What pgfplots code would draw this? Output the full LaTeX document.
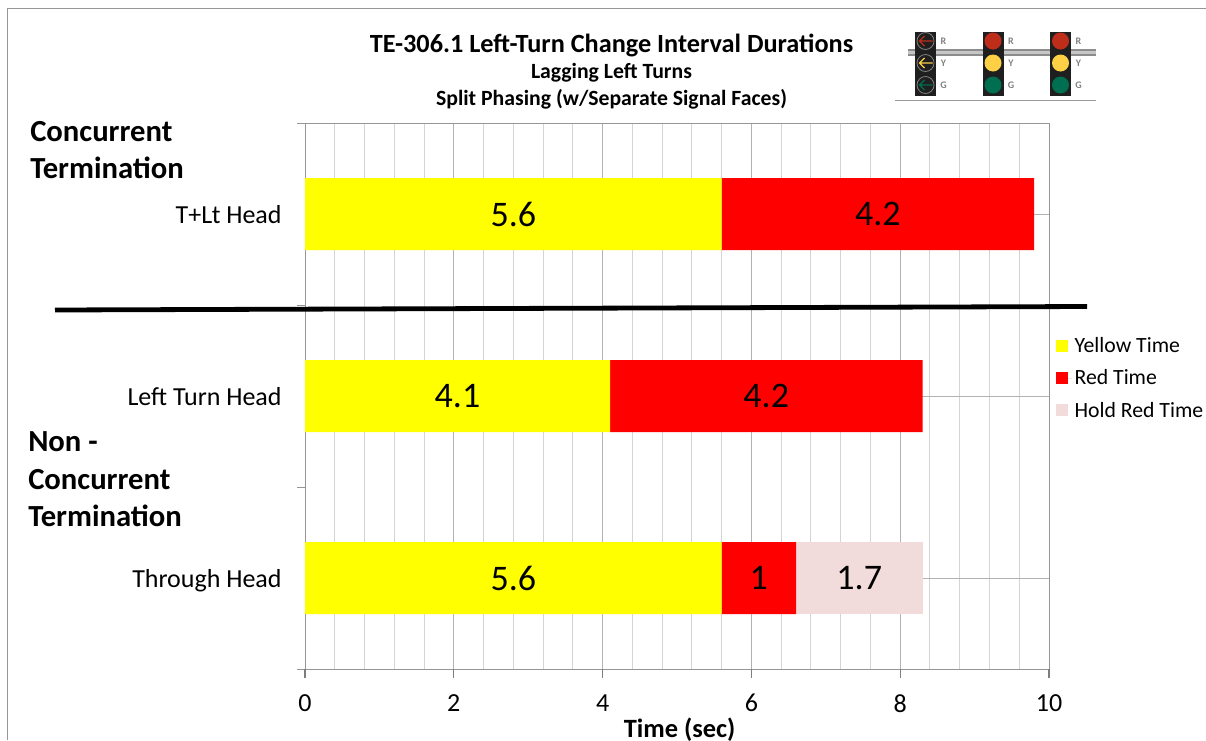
\documentclass[border=0pt]{standalone}
\usepackage{pgfplots}
\pgfplotsset{compat=1.18}
\usepackage{fontspec}
\setmainfont{Carlito}
\definecolor{pureyellow}{RGB}{255,255,0}
\definecolor{purered}{RGB}{255,0,0}
\definecolor{gridmaj}{RGB}{178,178,178}
\definecolor{gridmin}{RGB}{212,212,212}
\definecolor{axgray}{RGB}{150,150,150}
\definecolor{tickgray}{RGB}{125,125,125}
\definecolor{holdred}{RGB}{242,220,219}
\definecolor{sigred}{RGB}{190,45,25}
\definecolor{sigyel}{RGB}{253,208,70}
\definecolor{siggrn}{RGB}{0,110,80}
\begin{document}
\begin{tikzpicture}
\path[use as bounding box] (0,0) rectangle (904.5pt,-555pt);
\begin{axis}[
  at={(228.75pt,-501.75pt)}, anchor=south west,
  scale only axis, width=558pt, height=409.5pt,
  xbar stacked, bar width=54pt, bar shift=0pt,
  xmin=0, xmax=10, ymin=-0.5, ymax=2.5,
  xtick={0,2,4,6,8,10},
  minor x tick num=4,
  ytick={-0.5,0.5,1.5,2.5},
  yticklabels={},
  extra y ticks={0,1,2},
  extra y tick labels={Through Head,Left Turn Head,T+Lt Head},
  extra y tick style={grid=major, major tick length=0pt},
  xmajorgrids, xminorgrids,
  major grid style={gridmaj,line width=0.75pt},
  minor grid style={gridmin,line width=0.75pt},
  minor tick length=0pt,
  axis line style={axgray,line width=0.75pt},
  tick pos=left,
  tick align=outside,
  tick style={axgray,line width=0.75pt},
  major tick length=6pt,
  ticklabel style={font=\fontsize{19.5}{21}\selectfont},
  tick label style={text=black},
  /pgf/number format/assume math mode=true,
  yticklabel style={xshift=-14pt, yshift=-2.25pt, text height=13pt, text depth=4pt},
  xticklabel style={yshift=-9.5pt},
  xlabel={\textbf{Time (sec)}},
  xlabel style={font=\fontsize{19.8}{22}\selectfont,yshift=3pt,xshift=2pt},
  legend cell align=left,
  legend style={at={(1.0,0.617)},anchor=north west,draw=none,fill=none,font=\fontsize{16.3}{18}\selectfont,
    row sep=7.3pt,xshift=2pt},
  legend image code/.code={\fill[#1] (0pt,-4pt) rectangle (9pt,5pt); \path (0pt,0pt) -- (12pt,0pt);},
  nodes near coords,
  nodes near coords style={font=\fontsize{27}{29}\selectfont,text=black,anchor=center,
    /pgf/number format/assume math mode=true},
]
\addplot[fill=pureyellow,draw=none] coordinates {(5.6,0) (4.1,1) (5.6,2)};
\addplot[fill=purered,draw=none] coordinates {(1,0) (4.2,1) (4.2,2)};
\addplot[fill=holdred,draw=none] coordinates {(1.7,0)};
\legend{Yellow Time,Red Time,Hold Red Time}
\end{axis}
\begin{scope}[x=0.75pt,y=-0.75pt]
\foreach \tx in {305,453.8,602.6,751.4,900.2,1049}{
  \draw[tickgray,line width=1pt] (\tx,669) -- (\tx,678);
}
\draw[axgray,line width=0.75pt] (7.5,740) -- (7.5,8) -- (1206,8);
\draw[black,line width=3.6pt] (55,310) -- (1087,306.5);
\node[font=\bfseries\fontsize{19.7}{22}\selectfont] at (611.5,45) {TE-306.1 Left-Turn Change Interval Durations};
\node[font=\bfseries\fontsize{16.3}{18}\selectfont] at (611.5,73) {Lagging Left Turns};
\node[font=\bfseries\fontsize{16.3}{18}\selectfont] at (611.5,99) {Split Phasing (w/Separate Signal Faces)};
\node[font=\bfseries\fontsize{23}{25}\selectfont,anchor=west,inner sep=0pt] at (30,132) {Concurrent};
\node[font=\bfseries\fontsize{23}{25}\selectfont,anchor=west,inner sep=0pt] at (30,168) {Termination};
\node[font=\bfseries\fontsize{23}{25}\selectfont,anchor=west,inner sep=0pt] at (28,442) {Non -};
\node[font=\bfseries\fontsize{23}{25}\selectfont,anchor=west,inner sep=0pt] at (28,480) {Concurrent};
\node[font=\bfseries\fontsize{23}{25}\selectfont,anchor=west,inner sep=0pt] at (28,516) {Termination};
% signal icon
\draw[gray!80,line width=0.75pt] (895,100) -- (1096,100);
\fill[gray!90] (908,49) rectangle (1096,56);
\fill[gray!45] (908,51) rectangle (1096,54);
\foreach \x/\k in {925.5/0,993/1,1060.5/2}{
  \fill[black!88] (\x-10.5,32) rectangle (\x+10.5,96);
  \foreach \c/\y/\l in {sigred/41/R,sigyel/63/Y,siggrn/85/G}{
    \node[font=\bfseries\fontsize{7.5}{8}\selectfont,text=gray] at (\x+18,\y) {\l};
    \ifnum\k=0
      \draw[gray,line width=0.6pt] (\x,\y) circle (8.5);
      \draw[\c,line width=1pt] (\x+7,\y) -- (\x-6,\y) (\x-1,\y-5) -- (\x-6,\y) -- (\x-1,\y+5);
    \else
      \fill[\c] (\x,\y) circle (8.5);
    \fi
  }
}
\end{scope}
\end{tikzpicture}
\end{document}
